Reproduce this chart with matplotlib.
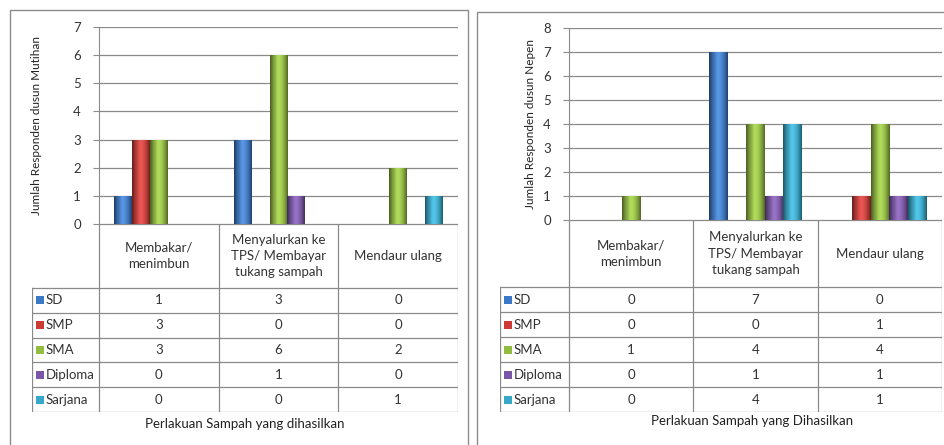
import numpy as np
import matplotlib
matplotlib.use("Agg")
import matplotlib.pyplot as plt
from matplotlib.patches import Rectangle
from matplotlib.colors import to_rgb

plt.rcParams['font.family'] = ['Lato', 'DejaVu Sans']

W, H = 944, 445

# data
categories = ["Membakar/\nmenimbun", "Menyalurkan ke\nTPS/ Membayar\ntukang sampah", "Mendaur ulang"]
series = ["SD", "SMP", "SMA", "Diploma", "Sarjana"]
colors = ["#3b78c6", "#cc3a36", "#93bd3f", "#7a55a8", "#36a9cb"]

mutihan = {
    "SD": [1, 3, 0],
    "SMP": [3, 0, 0],
    "SMA": [3, 6, 2],
    "Diploma": [0, 1, 0],
    "Sarjana": [0, 0, 1],
}
nepen = {
    "SD": [0, 7, 0],
    "SMP": [0, 0, 1],
    "SMA": [1, 4, 4],
    "Diploma": [0, 1, 1],
    "Sarjana": [0, 4, 1],
}

FS = 9.5


def rect(x0, y0, x1, y1):
    # pixel box -> figure fraction
    return [x0 / W, 1 - y1 / H, (x1 - x0) / W, (y1 - y0) / H]


def shade_bar(ax, bar, color):
    # cylinder-like shading: darker edges, light centre
    x, y = bar.get_x(), bar.get_y()
    w, h = bar.get_width(), bar.get_height()
    if h <= 0:
        return
    base = np.array(to_rgb(color))
    t = np.linspace(-1, 1, 40)
    k = 1 - 0.45 * t ** 2
    k = np.where(t < -0.3, k * 0.92, k)
    img = np.clip(base[None, :] * k[:, None] + 0.12 * (1 - np.abs(t))[:, None], 0, 1)
    img = img[None, :, :]
    im = ax.imshow(img, extent=(x, x + w, y, y + h), aspect='auto', zorder=3,
                   interpolation='bilinear')
    im.set_clip_path(bar)


def draw_chart(fig, data, frame, plot, table, ymax, ylabel, ylabel_x, xlabel, xlabel_pos, header_h):
    fx0, fy0, fx1, fy1 = frame
    fig.patches.append(Rectangle((fx0 / W, 1 - fy1 / H), (fx1 - fx0) / W, (fy1 - fy0) / H,
                                 transform=fig.transFigure, fill=False,
                                 edgecolor="#8c8c8c", lw=1.0))

    px0, py0, px1, py1 = plot
    ax = fig.add_axes(rect(px0, py0, px1, py1))
    n = len(series)
    width = 0.15
    xs = np.arange(len(categories))
    for i, s in enumerate(series):
        bars = ax.bar(xs + (i - (n - 1) / 2) * width, data[s], width,
                      color=colors[i], zorder=2, linewidth=0)
        for b in bars:
            shade_bar(ax, b, colors[i])
    ax.set_xlim(-0.5, 2.5)
    ax.set_ylim(0, ymax)
    ax.set_yticks(range(ymax + 1))
    ax.grid(axis='y', color="#8a8a8a", lw=0.9, zorder=1)
    ax.set_axisbelow(True)
    ax.set_xticks([])
    for sp in ["top", "right", "bottom"]:
        ax.spines[sp].set_visible(False)
    ax.spines["left"].set_color("#8a8a8a")
    ax.tick_params(axis='y', length=4, color="#8a8a8a", labelsize=FS, labelcolor="#333333", pad=9)

    fig.text(ylabel_x / W, 1 - (py0 + py1) / 2 / H, ylabel, rotation=90,
             ha='center', va='center', fontsize=8.5, color="#222222")

    # data table under the plot
    tx0, ty0, tx1, ty1 = table
    tax = fig.add_axes(rect(tx0, ty0, tx1, ty1))
    scale = 3.0 / (px1 - px0)
    left = -0.5 - (px0 - tx0) * scale
    tax.set_xlim(left, 2.5)
    tax.set_ylim(ty1, ty0)
    tax.axis('off')
    lc = "#8a8a8a"
    row_h = (ty1 - ty0 - header_h) / n
    # horizontal lines
    tax.plot([-0.5, 2.5], [ty0, ty0], color=lc, lw=0.9)
    for r in range(n + 1):
        yy = ty0 + header_h + r * row_h
        tax.plot([left, 2.5], [yy, yy], color=lc, lw=0.9)
    # vertical lines
    for xb in [-0.5, 0.5, 1.5, 2.5]:
        tax.plot([xb, xb], [ty0, ty1], color=lc, lw=0.9)
    tax.plot([left, left], [ty0 + header_h, ty1], color=lc, lw=0.9)
    for c, cat in enumerate(categories):
        tax.text(c, ty0 + header_h / 2, cat, ha='center', va='center',
                 fontsize=FS, color="#333333", linespacing=1.45)
    for r, s in enumerate(series):
        yc = ty0 + header_h + (r + 0.5) * row_h
        tax.add_patch(Rectangle((left + 0.03, yc - 4), 8 * scale, 8,
                                facecolor=colors[r], edgecolor='none'))
        tax.text(left + 0.03 + 10 * scale, yc, s, ha='left', va='center',
                 fontsize=FS, color="#333333")
        for c in range(len(categories)):
            tax.text(c, yc, str(data[s][c]), ha='center', va='center',
                     fontsize=FS, color="#333333")

    fig.text(xlabel_pos[0] / W, 1 - xlabel_pos[1] / H, xlabel, ha='center', va='center',
             fontsize=FS, color="#222222")


fig = plt.figure(figsize=(W / 100, H / 100), dpi=100)
fig.patch.set_facecolor("white")

draw_chart(fig, mutihan, frame=(10, 10, 468, 452), plot=(99, 27, 458, 224),
           table=(32, 224, 458, 412), ymax=7,
           ylabel="Jumlah Responden dusun Mutihan", ylabel_x=37,
           xlabel="Perlakuan Sampah yang dihasilkan", xlabel_pos=(245, 424),
           header_h=64)

draw_chart(fig, nepen, frame=(477, 12, 950, 452), plot=(569, 28, 942, 220),
           table=(500, 220, 942, 412), ymax=8,
           ylabel="Jumlah Responden dusun Nepen", ylabel_x=530,
           xlabel="Perlakuan Sampah yang Dihasilkan", xlabel_pos=(752, 421),
           header_h=67)

fig.savefig("out.png", dpi=100, facecolor="white")
